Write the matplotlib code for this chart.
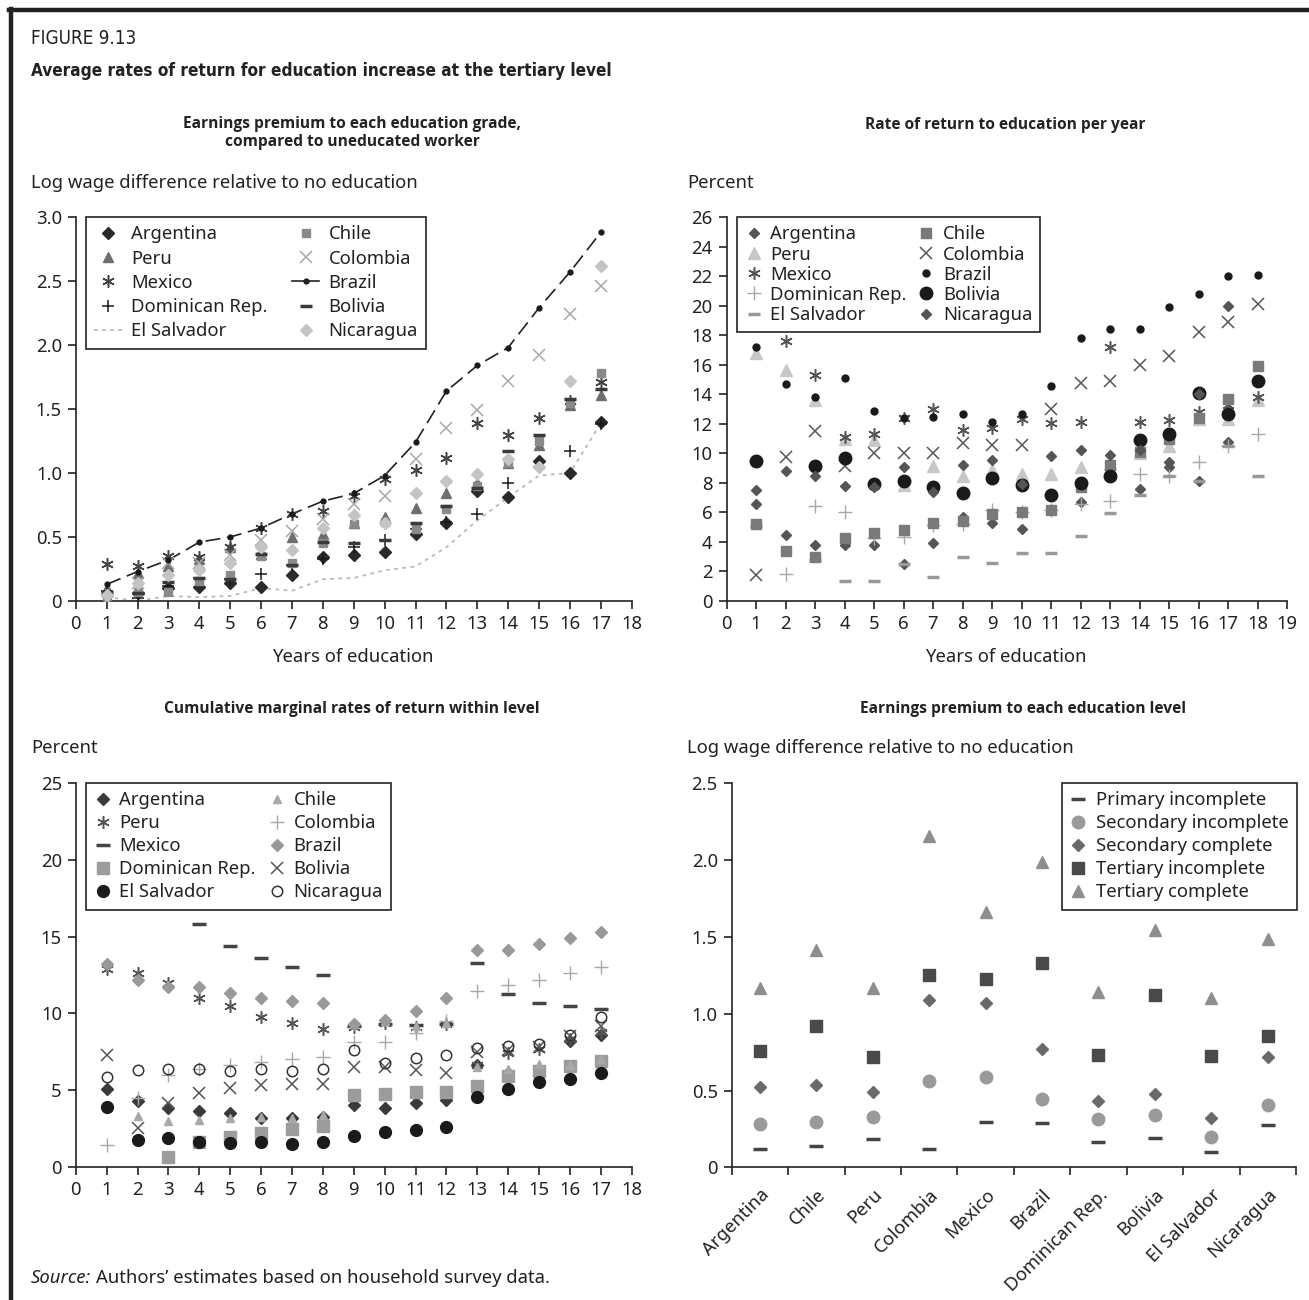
import numpy as np
import matplotlib
matplotlib.use('Agg')
import matplotlib.pyplot as plt
from matplotlib.lines import Line2D
from matplotlib.ticker import FuncFormatter

plt.rcParams['font.family'] = ['Noto Sans', 'DejaVu Sans']

nan = np.nan

# ---- panel 1: earnings premium by grade (log points), years 1..17
years_a = np.arange(1, 18)
p1_argentina = [0.05, 0.06, 0.10, 0.11, 0.14, 0.11, 0.20, 0.34, 0.36, 0.38, 0.52, 0.61, 0.86, 0.81, 1.09, 1.00, 1.40]
p1_peru = [0.10, 0.22, 0.27, 0.33, 0.42, 0.37, 0.50, 0.52, 0.61, 0.66, 0.73, 0.84, 0.92, 1.08, 1.22, 1.53, 1.61]
p1_mexico = [0.29, 0.27, 0.35, 0.34, 0.42, 0.57, 0.68, 0.70, 0.82, 0.95, 1.02, 1.12, 1.39, 1.30, 1.43, 1.56, 1.71]
p1_dominican = [0.08, 0.02, 0.12, 0.18, 0.17, 0.21, 0.28, 0.33, 0.42, 0.48, 0.56, 0.62, 0.68, 0.92, 1.05, 1.17, 1.38]
p1_elsalvador = [0.03, 0.00, 0.04, 0.03, 0.04, 0.10, 0.08, 0.17, 0.18, 0.24, 0.27, 0.42, 0.63, 0.81, 0.98, 1.00, 1.39]
p1_chile = [0.04, 0.07, 0.07, 0.16, 0.20, 0.35, 0.30, 0.45, 0.60, 0.62, 0.56, 0.72, 0.90, 1.08, 1.25, 1.55, 1.78]
p1_colombia = [0.01, 0.14, 0.30, 0.30, 0.36, 0.48, 0.55, 0.64, 0.76, 0.82, 1.11, 1.35, 1.49, 1.72, 1.92, 2.24, 2.46]
p1_brazil = [0.13, 0.23, 0.32, 0.46, 0.50, 0.57, 0.68, 0.78, 0.84, 0.98, 1.24, 1.64, 1.84, 1.98, 2.29, 2.57, 2.88]
p1_bolivia = [0.07, 0.06, 0.15, 0.18, 0.17, 0.37, 0.28, 0.46, 0.45, 0.48, 0.61, 0.74, 0.88, 1.17, 1.30, 1.58, 1.66]
p1_nicaragua = [0.05, 0.14, 0.20, 0.24, 0.30, 0.42, 0.40, 0.57, 0.67, 0.61, 0.84, 0.94, 0.99, 1.11, 1.05, 1.72, 2.62]

# ---- panel 2: rate of return per year (percent), years 1..18
years_b = np.arange(1, 19)
p2_argentina = [6.6, 4.5, 3.8, 3.8, 3.8, 2.5, 3.95, 5.7, 5.3, 4.9, 6.2, 6.7, 9.2, 7.6, 9.1, 8.1, 10.8, nan]
p2_peru = [16.8, 15.65, 13.65, 10.95, 10.9, 7.85, 9.15, 8.5, 8.9, 8.6, 8.6, 9.1, 9.3, 10.0, 10.5, 12.3, 12.3, 13.6]
p2_mexico = [nan, 17.6, 15.3, 11.1, 11.35, 12.4, 13.0, 11.6, 11.75, 12.3, 12.05, 12.15, 17.2, 12.1, 12.25, 12.8, 13.3, 13.85]
p2_dominican = [nan, 1.85, 6.45, 6.05, 4.25, 4.35, 5.15, 5.25, 6.15, 6.05, 6.2, 6.55, 6.8, 8.6, 8.5, 9.45, 10.5, 11.35]
p2_elsalvador = [5.05, nan, 2.8, 1.35, 1.35, 2.5, 1.65, 3.0, 2.6, 3.25, 3.25, 4.4, 5.95, 7.2, 8.45, 8.1, 10.5, 8.5]
p2_chile = [5.25, 3.4, 3.0, 4.25, 4.6, 4.8, 5.3, 5.45, 5.9, 6.05, 6.2, 7.7, 9.2, 10.1, 11.0, 12.4, 13.7, 15.9]
p2_colombia = [1.75, 9.75, 11.5, 9.15, 10.05, 10.0, 10.05, 10.7, 10.6, 10.6, 13.0, 14.8, 14.9, 16.0, 16.6, 18.25, 18.9, 20.1]
p2_brazil = [17.2, 14.7, 13.85, 15.1, 12.9, 12.4, 12.5, 12.7, 12.1, 12.7, 14.6, 17.8, 18.4, 18.4, 19.9, 20.8, 22.0, 22.1]
p2_bolivia = [9.5, nan, 9.15, 9.7, 7.9, 8.1, 7.7, 7.35, 8.35, 7.85, 7.2, 8.0, 8.5, 10.9, 11.3, 14.1, 12.7, 14.9]
p2_nicaragua = [7.5, 8.8, 8.5, 7.8, 7.7, 9.1, 7.4, 9.2, 9.55, 7.9, 9.8, 10.2, 9.9, 10.2, 9.4, 14.0, 20.0, nan]

# ---- panel 3: cumulative marginal rates of return (percent), years 1..17
p3_argentina = [5.07, 4.28, 3.8, 3.63, 3.48, 3.2, 3.15, 3.26, 4.02, 3.85, 4.13, 4.35, 6.6, 6.1, 6.3, 8.2, 8.6]
p3_peru = [12.9, 12.6, 11.95, 11.0, 10.5, 9.75, 9.4, 9.0, 9.1, 9.4, 9.1, 9.3, 6.6, 7.4, 7.7, 8.3, 8.8]
p3_mexico = [nan, nan, nan, 15.8, 14.4, 13.6, 13.05, 12.5, 9.2, 9.3, 9.25, 9.3, 13.25, 11.25, 10.7, 10.45, 10.3]
p3_dominican = [nan, nan, 0.65, 1.63, 1.95, 2.17, 2.43, 2.65, 4.67, 4.72, 4.9, 4.9, 5.26, 5.9, 6.24, 6.57, 6.9]
p3_elsalvador = [3.9, 1.74, 1.85, 1.63, 1.52, 1.59, 1.48, 1.63, 2.02, 2.28, 2.39, 2.57, 4.57, 5.04, 5.5, 5.7, 6.13]
p3_chile = [nan, 3.3, 3.0, 3.05, 3.15, 3.25, 3.2, 3.4, 9.3, 9.5, 9.2, 9.4, 6.5, 6.4, 6.7, 6.6, 7.0]
p3_colombia = [1.4, 4.45, 5.98, 6.4, 6.6, 6.85, 7.0, 7.17, 8.15, 8.15, 8.7, 9.5, 11.45, 11.85, 12.2, 12.6, 13.0]
p3_brazil = [13.2, 12.2, 11.75, 11.75, 11.35, 11.0, 10.8, 10.7, 9.3, 9.55, 10.17, 10.98, 14.13, 14.13, 14.52, 14.9, 15.3]
p3_bolivia = [7.28, 2.5, 4.13, 4.83, 5.1, 5.33, 5.37, 5.39, 6.5, 6.5, 6.3, 6.1, 7.5, 7.6, 7.8, 8.5, 9.2]
p3_nicaragua = [5.87, 6.3, 6.4, 6.35, 6.24, 6.35, 6.24, 6.4, 7.6, 6.74, 7.07, 7.28, 7.72, 7.87, 8.0, 8.6, 9.78]

# ---- panel 4: earnings premium by level (log points)
countries = ['Argentina', 'Chile', 'Peru', 'Colombia', 'Mexico', 'Brazil',
             'Dominican Rep.', 'Bolivia', 'El Salvador', 'Nicaragua']
primary_incomplete = [0.117, 0.141, 0.185, 0.117, 0.298, 0.291, 0.167, 0.193, 0.102, 0.276]
secondary_incomplete = [0.283, 0.298, 0.330, 0.559, 0.587, 0.446, 0.315, 0.341, 0.200, 0.407]
secondary_complete = [0.522, 0.537, 0.493, 1.091, 1.070, 0.770, 0.433, 0.476, 0.324, 0.717]
tertiary_incomplete = [0.754, 0.922, 0.717, 1.250, 1.226, 1.330, 0.728, 1.120, 0.726, 0.852]
tertiary_complete = [1.167, 1.417, 1.167, 2.157, 1.661, 1.987, 1.139, 1.548, 1.102, 1.487]

INK = '#222222'
FS = 13.3
BOLD = ['Open Sans', 'DejaVu Sans']
NARROW = ['DejaVu Sans']

W, H = 1309, 1300
fig = plt.figure(figsize=(W / 100, H / 100), dpi=100)


def px_axes(left, top, right, bottom):
    return fig.add_axes([left / W, 1 - bottom / H, (right - left) / W, (bottom - top) / H])


def fig_text(x, y, s, **kw):
    kw.setdefault('fontsize', FS)
    kw.setdefault('color', INK)
    kw.setdefault('va', 'center')
    return fig.text(x / W, 1 - y / H, s, **kw)


def style_axes(ax):
    for s in ['top', 'right']:
        ax.spines[s].set_visible(False)
    for s in ['left', 'bottom']:
        ax.spines[s].set_linewidth(1.2)
        ax.spines[s].set_color(INK)
    ax.tick_params(direction='out', length=6, width=1.2, color=INK,
                   labelsize=FS, labelcolor=INK, pad=4)


def one_dec(v, pos):
    return '0' if abs(v) < 1e-9 else '%.1f' % v


def pts(ax, x, y, label, marker, color, ms, mew=1.0, mfc=None, z=3):
    return ax.plot(x, y, linestyle='none', marker=marker, color=color,
                   markersize=ms, markeredgewidth=mew,
                   markerfacecolor=color if mfc is None else mfc,
                   label=label, zorder=z)[0]


def add_legend(handles, anchor, loc, spacing, hlen=1.6, colsp=1.0, ncol=2, pad=0.5):
    x, y = anchor
    leg = fig.legend(handles=handles, loc=loc, bbox_to_anchor=(x / W, 1 - y / H),
                     ncol=ncol, frameon=True, fancybox=False, framealpha=1,
                     edgecolor=INK, fontsize=FS, handlelength=hlen,
                     handletextpad=pad, columnspacing=colsp, labelspacing=spacing,
                     borderpad=0.45, borderaxespad=0, numpoints=1)
    leg.get_frame().set_linewidth(1.2)
    for t in leg.get_texts():
        t.set_color(INK)
    return leg


STAR = (6, 2, 0)
order = ['Argentina', 'Peru', 'Mexico', 'Dominican Rep.', 'El Salvador',
         'Chile', 'Colombia', 'Brazil', 'Bolivia', 'Nicaragua']

# ================= panel 1 =================
ax1 = px_axes(75.8, 217, 631.7, 601)
style_axes(ax1)
ax1.plot(years_a, p1_elsalvador, color='#b8b8b8', lw=1.3, ls=(0, (2, 2.5)), zorder=2)
ax1.plot(years_a, p1_brazil, color=INK, lw=1.2, ls=(0, (9, 4)), zorder=2)
h = {}
h['Argentina'] = pts(ax1, years_a, p1_argentina, 'Argentina', 'D', '#2a2a2a', 6.5)
h['Peru'] = pts(ax1, years_a, p1_peru, 'Peru', '^', '#6e6e6e', 7.5)
h['Mexico'] = pts(ax1, years_a, p1_mexico, 'Mexico', STAR, '#444444', 9, 1.1)
h['Dominican Rep.'] = pts(ax1, years_a, p1_dominican, 'Dominican Rep.', '+', '#1a1a1a', 9, 1.1)
h['Chile'] = pts(ax1, years_a, p1_chile, 'Chile', 's', '#8a8a8a', 5.5)
h['Colombia'] = pts(ax1, years_a, p1_colombia, 'Colombia', 'x', '#a8a8a8', 9, 1.1)
pts(ax1, years_a, p1_brazil, 'Brazil', 'o', '#1a1a1a', 3.5)
h['Bolivia'] = pts(ax1, years_a, p1_bolivia, 'Bolivia', '_', '#3a3a3a', 9, 2.5)
h['Nicaragua'] = pts(ax1, years_a, p1_nicaragua, 'Nicaragua', 'D', '#c4c4c4', 6.5)
# legend proxies for the two line series
h['El Salvador'] = Line2D([], [], color='#b8b8b8', lw=1.3, ls=(0, (2, 2.5)), label='El Salvador')
h['Brazil'] = Line2D([], [], color=INK, lw=1.2, marker='o', ms=3.5, label='Brazil')
add_legend([h[k] for k in order], (86, 217), 'upper left', 0.34, hlen=1.5, colsp=1.3)
ax1.set_xlim(0, 18)
ax1.set_ylim(0, 3)
ax1.set_xticks(range(19))
ax1.set_yticks(np.arange(0, 3.01, 0.5))
ax1.yaxis.set_major_formatter(FuncFormatter(one_dec))

# ================= panel 2 =================
ax2 = px_axes(726.5, 217.3, 1287, 601)
style_axes(ax2)
h = {}
h['Argentina'] = pts(ax2, years_b, p2_argentina, 'Argentina', 'D', '#555555', 5.5)
h['Peru'] = pts(ax2, years_b, p2_peru, 'Peru', '^', '#c8c8c8', 8)
h['Mexico'] = pts(ax2, years_b, p2_mexico, 'Mexico', STAR, '#555555', 9, 1.1)
h['Dominican Rep.'] = pts(ax2, years_b, p2_dominican, 'Dominican Rep.', '+', '#a8a8a8', 10, 1.0)
h['El Salvador'] = pts(ax2, years_b, p2_elsalvador, 'El Salvador', '_', '#999999', 9, 2.5)
h['Chile'] = pts(ax2, years_b, p2_chile, 'Chile', 's', '#7a7a7a', 7)
h['Colombia'] = pts(ax2, years_b, p2_colombia, 'Colombia', 'x', '#555555', 8, 1.1)
h['Brazil'] = pts(ax2, years_b, p2_brazil, 'Brazil', 'o', '#1a1a1a', 5)
h['Bolivia'] = pts(ax2, years_b, p2_bolivia, 'Bolivia', 'o', '#1a1a1a', 9)
h['Nicaragua'] = pts(ax2, years_b, p2_nicaragua, 'Nicaragua', 'D', '#555555', 5.5)
add_legend([h[k] for k in order], (737, 217), 'upper left', 0.12, hlen=0.9, colsp=0.6, pad=0.45)
ax2.set_xlim(0, 19)
ax2.set_ylim(0, 26)
ax2.set_xticks(range(20))
ax2.set_yticks(range(0, 27, 2))

# ================= panel 3 =================
ax3 = px_axes(75.8, 783.3, 631.7, 1166.7)
style_axes(ax3)
h = {}
h['Argentina'] = pts(ax3, years_a, p3_argentina, 'Argentina', 'D', '#3a3a3a', 6)
h['Peru'] = pts(ax3, years_a, p3_peru, 'Peru', STAR, '#555555', 9, 1.1)
h['Mexico'] = pts(ax3, years_a, p3_mexico, 'Mexico', '_', '#444444', 10, 2.5)
h['Dominican Rep.'] = pts(ax3, years_a, p3_dominican, 'Dominican Rep.', 's', '#9c9c9c', 8)
h['El Salvador'] = pts(ax3, years_a, p3_elsalvador, 'El Salvador', 'o', '#1a1a1a', 8.5)
h['Chile'] = pts(ax3, years_a, p3_chile, 'Chile', '^', '#a8a8a8', 6)
h['Colombia'] = pts(ax3, years_a, p3_colombia, 'Colombia', '+', '#a8a8a8', 10, 1.0)
h['Brazil'] = pts(ax3, years_a, p3_brazil, 'Brazil', 'D', '#999999', 6)
h['Bolivia'] = pts(ax3, years_a, p3_bolivia, 'Bolivia', 'x', '#555555', 8, 1.1)
h['Nicaragua'] = pts(ax3, years_a, p3_nicaragua, 'Nicaragua', 'o', '#333333', 7.5, 1.1, mfc='none')
add_legend([h[k] for k in order], (86, 783), 'upper left', 0.27, hlen=0.9, colsp=0.7, pad=0.45)
ax3.set_xlim(0, 18)
ax3.set_ylim(0, 25)
ax3.set_xticks(range(19))
ax3.set_yticks(range(0, 26, 5))

# ================= panel 4 =================
ax4 = px_axes(731.7, 783.3, 1296, 1167.3)
style_axes(ax4)
xc = np.arange(len(countries)) + 0.5
lv = [
    pts(ax4, xc, primary_incomplete, 'Primary incomplete', '_', '#444444', 10, 2.5),
    pts(ax4, xc, secondary_incomplete, 'Secondary incomplete', 'o', '#9a9a9a', 9),
    pts(ax4, xc, secondary_complete, 'Secondary complete', 'D', '#6a6a6a', 6.5),
    pts(ax4, xc, tertiary_incomplete, 'Tertiary incomplete', 's', '#4a4a4a', 8),
    pts(ax4, xc, tertiary_complete, 'Tertiary complete', '^', '#8e8e8e', 9),
]
add_legend(lv, (1297, 783), 'upper right', 0.27, hlen=0.9, ncol=1, pad=0.5)
ax4.set_xlim(0, len(countries))
ax4.set_ylim(0, 2.5)
ax4.set_xticks(range(len(countries) + 1))
ax4.set_xticklabels([])
ax4.set_xticks(xc, minor=True)
ax4.set_xticklabels(countries, minor=True, rotation=45, ha='right',
                    rotation_mode='anchor', fontsize=FS, color=INK)
ax4.tick_params(axis='x', which='minor', length=0, pad=13)
ax4.set_yticks(np.arange(0, 2.51, 0.5))
ax4.yaxis.set_major_formatter(FuncFormatter(one_dec))

# ================= texts =================
fig_text(31, 39, 'FIGURE 9.13', fontsize=13.5, family=NARROW, fontstretch='condensed')
fig_text(31, 71, 'Average rates of return for education increase at the tertiary level',
         fontsize=12.3, fontweight='bold', family=NARROW, fontstretch='condensed')

fig_text(352, 133, 'Earnings premium to each education grade,\ncompared to uneducated worker',
         fontsize=11.2, fontweight='bold', family=BOLD, ha='center', linespacing=1.2)
fig_text(1005, 125, 'Rate of return to education per year', fontsize=11.2,
         fontweight='bold', family=BOLD, ha='center')
fig_text(352, 709, 'Cumulative marginal rates of return within level', fontsize=11.2,
         fontweight='bold', family=BOLD, ha='center')
fig_text(1023, 709, 'Earnings premium to each education level', fontsize=11.2,
         fontweight='bold', family=BOLD, ha='center')

fig_text(31, 183, 'Log wage difference relative to no education')
fig_text(687, 183, 'Percent')
fig_text(31, 748, 'Percent')
fig_text(687, 748, 'Log wage difference relative to no education')

fig_text(353, 657, 'Years of education', ha='center')
fig_text(1006, 657, 'Years of education', ha='center')

src = fig_text(31, 1278, 'Source:', style='italic')
r = fig.canvas.get_renderer()
bb = src.get_window_extent(r)
fig_text(bb.x1 + 5, 1278, 'Authors\u2019 estimates based on household survey data.')

# outer frame, top and left only
fig.add_artist(Line2D([9 / W, 1], [1 - 10 / H, 1 - 10 / H], color=INK, lw=3.2,
                      transform=fig.transFigure))
fig.add_artist(Line2D([11 / W, 11 / W], [0, 1 - 8.5 / H], color=INK, lw=3.2,
                      transform=fig.transFigure))

fig.savefig('out.png', dpi=100)
